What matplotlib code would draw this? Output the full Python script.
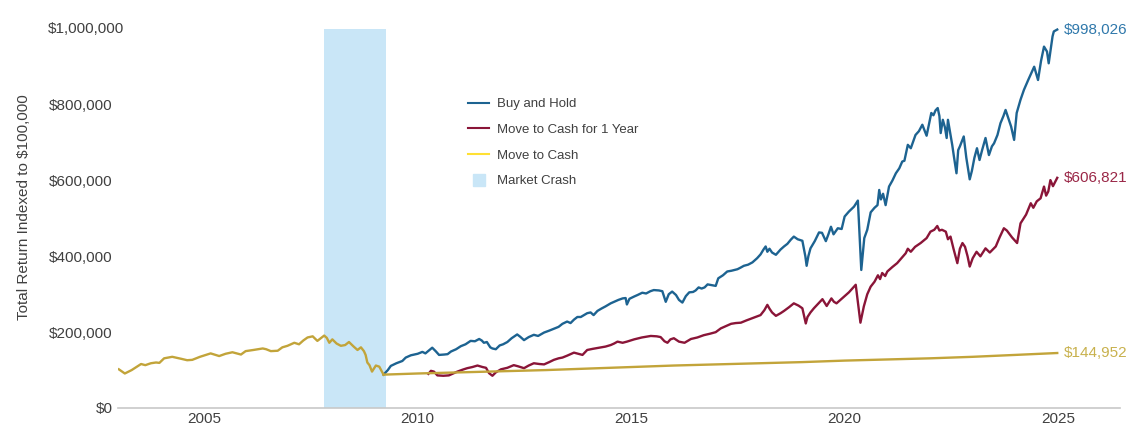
import matplotlib
matplotlib.use("Agg")
import matplotlib.pyplot as plt
from matplotlib.lines import Line2D

plt.rcParams['font.family'] = ['Liberation Sans', 'DejaVu Sans']

# shared history before the trough (all three strategies identical)
pre_years = [2003.00, 2003.14, 2003.30, 2003.52, 2003.62, 2003.75, 2003.87, 2003.95,
             2004.06, 2004.25, 2004.45, 2004.60, 2004.72, 2004.90, 2005.15, 2005.35,
             2005.50, 2005.66, 2005.86, 2005.97, 2006.15, 2006.37, 2006.45, 2006.56,
             2006.72, 2006.83, 2006.95, 2007.11, 2007.22, 2007.32, 2007.42, 2007.54,
             2007.65, 2007.81, 2007.87, 2007.93, 2008.00, 2008.10, 2008.20, 2008.30,
             2008.39, 2008.50, 2008.59, 2008.67, 2008.74, 2008.78, 2008.82, 2008.87,
             2008.93, 2009.02, 2009.10, 2009.20]
pre_values = [102, 91, 100, 116, 113, 118, 120, 119,
              131, 135, 130, 126, 127, 135, 144, 137,
              143, 147, 141, 150, 153, 157, 155, 150,
              151, 160, 164, 172, 168, 178, 186, 189,
              177, 191, 185, 172, 181, 170, 164, 166,
              174, 162, 153, 160, 150, 140, 120, 113,
              96, 112, 109, 88]

# Buy and Hold after the trough
bh_years = [2009.20, 2009.30, 2009.37, 2009.50, 2009.64, 2009.72, 2009.84, 2010.00,
            2010.11, 2010.18, 2010.34, 2010.42, 2010.50, 2010.62, 2010.70, 2010.78,
            2010.90, 2011.01, 2011.12, 2011.24, 2011.34, 2011.44, 2011.50, 2011.55,
            2011.62, 2011.70, 2011.75, 2011.83, 2011.92, 2012.00, 2012.10, 2012.20,
            2012.33, 2012.40, 2012.49, 2012.60, 2012.72, 2012.82, 2012.96, 2013.08,
            2013.19, 2013.30, 2013.39, 2013.50, 2013.58, 2013.66, 2013.74, 2013.82,
            2013.97, 2014.05, 2014.12, 2014.21, 2014.30, 2014.40, 2014.52, 2014.60,
            2014.70, 2014.80, 2014.87, 2014.90, 2014.96, 2015.07, 2015.15, 2015.26,
            2015.35, 2015.45, 2015.53, 2015.65, 2015.73, 2015.81, 2015.88, 2015.96,
            2016.05, 2016.12, 2016.20, 2016.28, 2016.36, 2016.45, 2016.51, 2016.58,
            2016.65, 2016.72, 2016.79, 2016.88, 2016.98, 2017.04, 2017.15, 2017.25,
            2017.35, 2017.49, 2017.56, 2017.64, 2017.74, 2017.84, 2017.95, 2018.03,
            2018.10, 2018.15, 2018.19, 2018.24, 2018.30, 2018.39, 2018.50, 2018.58,
            2018.66, 2018.74, 2018.81, 2018.90, 2019.01, 2019.08, 2019.11, 2019.15,
            2019.20, 2019.30, 2019.40, 2019.47, 2019.56, 2019.62, 2019.68, 2019.74,
            2019.84, 2019.93, 2020.00, 2020.10, 2020.22, 2020.31, 2020.39, 2020.46,
            2020.53, 2020.61, 2020.70, 2020.77, 2020.81, 2020.85, 2020.90, 2020.96,
            2021.04, 2021.12, 2021.20, 2021.28, 2021.35, 2021.40, 2021.48, 2021.55,
            2021.66, 2021.74, 2021.82, 2021.92, 2022.03, 2022.08, 2022.13, 2022.18,
            2022.22, 2022.25, 2022.30, 2022.35, 2022.39, 2022.42, 2022.48, 2022.52,
            2022.56, 2022.62, 2022.66, 2022.70, 2022.79, 2022.85, 2022.93, 2022.98,
            2023.04, 2023.10, 2023.16, 2023.22, 2023.30, 2023.38, 2023.45, 2023.50,
            2023.58, 2023.65, 2023.72, 2023.77, 2023.82, 2023.90, 2023.97, 2024.03,
            2024.12, 2024.20, 2024.30, 2024.44, 2024.53, 2024.60, 2024.67, 2024.74,
            2024.78, 2024.83, 2024.87, 2024.90, 2024.98]
bh_values = [88, 100, 111, 118, 124, 133, 139, 143,
             148, 144, 159, 150, 140, 141, 142, 149,
             155, 163, 168, 177, 176, 182, 178, 172,
             174, 160, 157, 155, 165, 168, 174, 184,
             194, 188, 179, 187, 193, 190, 199, 204,
             209, 214, 222, 228, 224, 233, 240, 240,
             250, 252, 245, 256, 262, 268, 276, 280,
             285, 289, 290, 273, 288, 294, 298, 304,
             302, 308, 311, 310, 308, 280, 300, 307,
             298, 285, 278, 295, 305, 306, 310, 318,
             315, 318, 326, 324, 322, 342, 350, 360,
             362, 366, 370, 375, 378, 384, 395, 405,
             418, 426, 412, 420, 410, 404, 418, 426,
             433, 444, 452, 445, 441, 400, 375, 400,
             421, 440, 463, 462, 440, 458, 478, 458,
             474, 472, 505, 518, 531, 547, 364, 448,
             470, 516, 528, 535, 575, 550, 565, 535,
             584, 600, 619, 632, 650, 652, 694, 685,
             720, 730, 747, 718, 778, 772, 785, 791,
             770, 725, 760, 740, 712, 760, 720, 694,
             663, 619, 680, 690, 716, 660, 603, 625,
             660, 685, 654, 680, 712, 667, 690, 698,
             720, 751, 770, 786, 769, 742, 707, 778,
             813, 839, 865, 900, 865, 915, 953, 940,
             909, 949, 980, 993, 998]

# Move to Cash for 1 Year (re-enters the market a year after the trough)
c1_years = [2010.25, 2010.31, 2010.38, 2010.46, 2010.60, 2010.73, 2010.85, 2010.93,
            2011.05, 2011.16, 2011.28, 2011.40, 2011.52, 2011.60, 2011.67, 2011.75,
            2011.83, 2011.95, 2012.10, 2012.25, 2012.35, 2012.49, 2012.60, 2012.72,
            2012.85, 2012.96, 2013.08, 2013.19, 2013.30, 2013.39, 2013.50, 2013.66,
            2013.76, 2013.86, 2013.97, 2014.10, 2014.25, 2014.40, 2014.52, 2014.60,
            2014.68, 2014.80, 2014.90, 2015.07, 2015.25, 2015.46, 2015.60, 2015.69,
            2015.78, 2015.85, 2015.92, 2016.00, 2016.12, 2016.25, 2016.40, 2016.55,
            2016.70, 2016.85, 2016.98, 2017.10, 2017.22, 2017.34, 2017.45, 2017.57,
            2017.70, 2017.84, 2017.95, 2018.03, 2018.12, 2018.19, 2018.24, 2018.30,
            2018.39, 2018.50, 2018.58, 2018.70, 2018.81, 2018.92, 2019.01, 2019.09,
            2019.13, 2019.20, 2019.28, 2019.38, 2019.48, 2019.58, 2019.69, 2019.75,
            2019.81, 2019.95, 2020.10, 2020.26, 2020.37, 2020.45, 2020.53, 2020.61,
            2020.70, 2020.78, 2020.83, 2020.88, 2020.95, 2021.00, 2021.12, 2021.23,
            2021.33, 2021.43, 2021.48, 2021.55, 2021.65, 2021.78, 2021.92, 2022.01,
            2022.10, 2022.17, 2022.22, 2022.28, 2022.37, 2022.42, 2022.48, 2022.55,
            2022.60, 2022.64, 2022.70, 2022.76, 2022.82, 2022.88, 2022.93, 2023.00,
            2023.09, 2023.18, 2023.30, 2023.40, 2023.54, 2023.63, 2023.73, 2023.80,
            2023.92, 2024.04, 2024.12, 2024.25, 2024.36, 2024.42, 2024.50, 2024.59,
            2024.67, 2024.72, 2024.77, 2024.82, 2024.88, 2024.98]
c1_values = [90, 98, 96, 86, 85, 86, 92, 96,
             101, 105, 108, 112, 108, 106, 92, 85,
             94, 102, 106, 113, 110, 105, 112, 118,
             116, 115, 121, 127, 131, 133, 138, 146,
             143, 140, 153, 156, 159, 162, 166, 170,
             175, 172, 175, 181, 186, 190, 189, 187,
             176, 172, 181, 184, 175, 172, 182, 186,
             192, 196, 200, 210, 216, 222, 224, 225,
             231, 237, 242, 245, 258, 272, 262, 252,
             243, 250, 256, 266, 276, 270, 263, 223,
             240, 252, 263, 275, 287, 269, 289, 280,
             276, 290, 305, 325, 225, 268, 300, 320,
             333, 350, 340, 356, 348, 360, 372, 382,
             395, 408, 420, 412, 425, 435, 448, 465,
             470, 480, 468, 470, 465, 445, 452, 420,
             399, 382, 420, 435, 425, 400, 373, 395,
             412, 400, 421, 410, 426, 450, 474, 468,
             450, 435, 487, 510, 540, 528, 545, 553,
             584, 560, 571, 601, 585, 607]

# Move to Cash (stays in cash from the trough)
cash_years = [2009.20, 2010.0, 2011.0, 2012.0, 2013.0, 2014.0, 2015.0, 2016.0,
              2017.0, 2018.0, 2019.0, 2020.0, 2021.0, 2022.0, 2023.0, 2024.0, 2024.98]
cash_values = [88, 91, 94, 97, 100, 104, 108, 112,
               115, 118, 121, 125, 128, 131, 135, 140, 145]

crash_start, crash_end = 2007.80, 2009.25
end_labels = ["$998,026", "$606,821", "$144,952"]
year_ticks = [2005, 2010, 2015, 2020, 2025]
value_ticks = [0, 200000, 400000, 600000, 800000, 1000000]

blue = "#1d6391"
red = "#8a1538"
gold = "#c2a43a"
band = "#c9e6f7"
txt = "#404040"

fig = plt.figure(figsize=(11.33, 4.30), dpi=100)
ax = fig.add_axes([118 / 1133, 1 - 408 / 430, (1120 - 118) / 1133, (408 - 25) / 430])

ax.axvspan(crash_start, crash_end, ymin=0, ymax=1000000 / 1010000, color=band, lw=0, zorder=1)

bh = [v * 1000 for v in bh_values]
c1 = [v * 1000 for v in c1_values]
cash = [v * 1000 for v in cash_values]
pre = [v * 1000 for v in pre_values]

ax.plot(bh_years, bh, color=blue, lw=1.7, zorder=3)
ax.plot(c1_years, c1, color=red, lw=1.7, zorder=3)
ax.plot(cash_years, cash, color=gold, lw=1.7, zorder=4)
ax.plot(pre_years, pre, color=gold, lw=1.7, zorder=4)

for yrs, vals, lab, col in [(bh_years, bh, end_labels[0], "#2f78ab"),
                            (c1_years, c1, end_labels[1], "#9a2747"),
                            (cash_years, cash, end_labels[2], "#c8b14d")]:
    ax.annotate(lab, (yrs[-1], vals[-1]), xytext=(5, 0), textcoords="offset points",
                va="center", ha="left", fontsize=11, color=col)

ax.set_xlim(2002.98, 2026.45)
ax.set_ylim(0, 1010000)
ax.set_xticks(year_ticks)
ax.set_xticklabels([str(y) for y in year_ticks])
ax.set_yticks(value_ticks)
ax.set_yticklabels(["$" + format(v, ",") for v in value_ticks[:-1]] + [""])
ax.tick_params(axis="both", length=0, labelsize=11, labelcolor=txt)
ax.tick_params(axis="x", pad=3)
ax.tick_params(axis="y", pad=4)
fig.text(48 / 1133, 1 - 29 / 430, "$" + format(value_ticks[-1], ","), fontsize=11,
         color=txt, ha="left", va="center")

for s in ["top", "right", "left"]:
    ax.spines[s].set_visible(False)
ax.spines["bottom"].set_color("#c8c8c8")
ax.spines["bottom"].set_linewidth(1.2)

fig.text(24 / 1133, 1 - 207 / 430, "Total Return Indexed to $100,000", rotation=90,
         fontsize=11, color=txt, ha="center", va="center")

handles = [Line2D([], [], color=blue, lw=1.5),
           Line2D([], [], color=red, lw=1.5),
           Line2D([], [], color="#ffe033", lw=1.5),
           Line2D([], [], color=band, marker="s", linestyle="none", markersize=8.5)]
labels = ["Buy and Hold", "Move to Cash for 1 Year", "Move to Cash", "Market Crash"]
leg = fig.legend(handles, labels, loc="upper left", bbox_to_anchor=(468 / 1133, 1 - 98 / 430),
                 frameon=False, fontsize=9.5, handlelength=1.6, handletextpad=0.6,
                 labelspacing=1.02, borderpad=0, borderaxespad=0)
for t in leg.get_texts():
    t.set_color(txt)

fig.savefig("out.png", dpi=100)
